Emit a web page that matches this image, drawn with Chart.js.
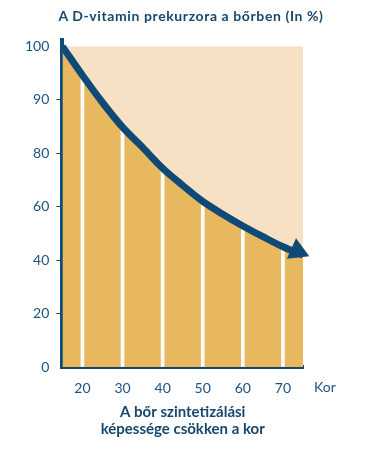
<!DOCTYPE html>
<html>
<head>
<meta charset="utf-8">
<script src="https://cdn.jsdelivr.net/npm/chart.js@4.4.0/dist/chart.umd.min.js"></script>
<style>
  html, body { margin: 0; padding: 0; background: #fff; }
  #wrap { position: relative; width: 368px; height: 450px; }
  #title {
    position: absolute; top: 7px; left: 0; width: 382px;
    text-align: center; font: bold 14px Lato, "Open Sans", sans-serif;
    letter-spacing: 0.6px; line-height: 18px; color: #17476f;
  }
</style>
</head>
<body>
<div id="wrap">
  <div id="title">A D-vitamin prekurzora a bőrben (In %)</div>
  <canvas id="chart" width="368" height="450"></canvas>
</div>
<script>
// age (years) -> vitamin D precursor in the skin (%)
const ages      = [15, 20, 25, 30, 35, 40, 45, 50, 55, 60, 65, 70, 75];
const precursor = [100, 94.6, 89.5, 84.9, 81.1, 74.4, 68, 62, 57.2, 52.8, 48.8, 45, 41.9];

// white dividers between the decades
const dividerAges = [20, 30, 40, 50, 60, 70];

// arrow head at the end of the curve
const arrowAge   = [73.6];
const arrowValue = [43.4];

// the y axis is not linear: these values sit at equal steps
const yTickValues = [0, 20, 40, 60, 80, 90, 100];
const yTickLabels = ['0', '20', '40', '60', '80', '90', '100'];
const xTicks      = [20, 30, 40, 50, 60, 70];

const BLUE   = '#0f4a77';
const TEXT   = '#22527f';
const YELLOW = '#e8b85e';
const PEACH  = '#f7e1c5';
const FONT   = 'Lato, "Open Sans", sans-serif';

// percent -> position on the stepped axis
function toAxis(v) {
  for (let i = 0; i < yTickValues.length - 1; i++) {
    const a = yTickValues[i], b = yTickValues[i + 1];
    if (v <= b) return i + (v - a) / (b - a);
  }
  return yTickValues.length - 1;
}

const curve    = ages.map((a, i) => ({ x: a, y: toAxis(precursor[i]) }));
const dividers = dividerAges.map(a => ({ x: a, y: toAxis(precursor[ages.indexOf(a)]) }));
const arrow    = arrowAge.map((a, i) => ({ x: a, y: toAxis(arrowValue[i]) }));

const plotBackground = {
  id: 'plotBackground',
  beforeDraw(chart) {
    const { ctx, chartArea, scales: { y } } = chart;
    const top = y.getPixelForValue(yTickValues.length - 1);
    ctx.save();
    ctx.fillStyle = PEACH;
    ctx.fillRect(chartArea.left, top, chartArea.right - chartArea.left, chartArea.bottom - top);
    ctx.restore();
  }
};

const korLabel = {
  id: 'korLabel',
  afterDraw(chart) {
    const { ctx, chartArea } = chart;
    ctx.save();
    ctx.font = '14px ' + FONT;
    ctx.fillStyle = TEXT;
    ctx.textAlign = 'center';
    ctx.textBaseline = 'middle';
    ctx.fillText('Kor', chartArea.right + 22, chartArea.bottom + 20);
    ctx.restore();
  }
};

new Chart(document.getElementById('chart'), {
  type: 'line',
  data: {
    datasets: [
      {
        data: curve,
        borderColor: BLUE,
        borderWidth: 7,
        backgroundColor: YELLOW,
        fill: 'origin',
        pointRadius: 0,
        cubicInterpolationMode: 'monotone',
        order: 1
      },
      {
        type: 'bar',
        data: dividers,
        backgroundColor: '#ffffff',
        barThickness: 3,
        order: 2
      },
      {
        data: arrow,
        showLine: false,
        pointStyle: 'triangle',
        pointRadius: 13,
        pointRotation: 114,
        pointBackgroundColor: BLUE,
        pointBorderWidth: 0,
        clip: false,
        order: 0
      }
    ]
  },
  options: {
    responsive: false,
    animation: false,
    layout: { padding: { left: 18, right: 65, top: 40, bottom: 12 } },
    plugins: {
      legend: { display: false },
      tooltip: { enabled: false },
      filler: { drawTime: 'beforeDatasetsDraw' }
    },
    scales: {
      x: {
        type: 'linear',
        min: 15, max: 75,
        offset: false,
        z: 1,
        afterBuildTicks: s => { s.ticks = xTicks.map(v => ({ value: v })); },
        grid: { display: false, drawTicks: false },
        border: { display: true, color: BLUE, width: 4 },
        ticks: { color: TEXT, font: { family: FONT, size: 14, lineHeight: 1 }, padding: 14, maxRotation: 0 },
        title: {
          display: true,
          text: ['A bőr szintetizálási', 'képessége csökken a kor'],
          color: '#17476f',
          font: { family: FONT, size: 15, weight: 'bold', lineHeight: 1.133 },
          padding: { top: -5, bottom: 0 }
        }
      },
      y: {
        min: 0, max: 6.12,
        z: 1,
        afterBuildTicks: s => { s.ticks = yTickValues.map((_, i) => ({ value: i })); },
        grid: {
          drawOnChartArea: false,
          drawTicks: true,
          tickLength: 6,
          lineWidth: 1,
          color: c => (c.index === 0 || c.index === yTickValues.length - 1) ? 'rgba(0,0,0,0)' : BLUE
        },
        border: { display: true, color: BLUE, width: 4 },
        ticks: {
          color: TEXT,
          font: { family: FONT, size: 14 },
          padding: 7,
          callback: (v, i) => yTickLabels[i]
        }
      }
    }
  },
  plugins: [plotBackground, korLabel]
});
</script>
</body>
</html>
